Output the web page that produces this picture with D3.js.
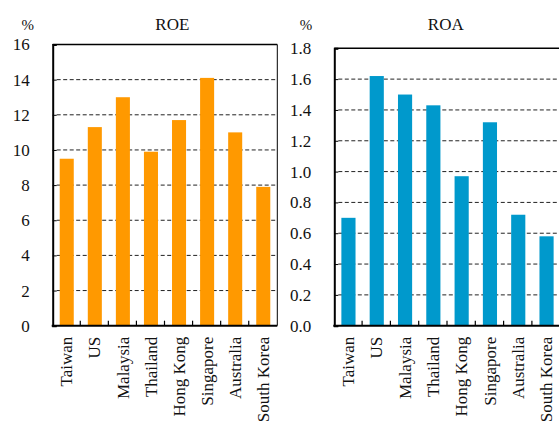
<!DOCTYPE html>
<html>
<head>
<meta charset="utf-8">
<script src="https://cdn.jsdelivr.net/npm/d3@7/dist/d3.min.js"></script>
<style>
  html, body { margin: 0; padding: 0; background: #fff; }
  svg { display: block; }
  text { font-family: "Liberation Serif", "Times New Roman", serif; fill: #111; }
</style>
</head>
<body>
<svg id="chart" width="559" height="421"></svg>
<script>
// Bank profitability by market
const categories = ["Taiwan", "US", "Malaysia", "Thailand", "Hong Kong", "Singapore", "Australia", "South Korea"];
const roeValues = [9.5, 11.3, 13.0, 9.9, 11.7, 14.1, 11.0, 7.9];
const roaValues = [0.70, 1.62, 1.50, 1.43, 0.97, 1.32, 0.72, 0.58];
const roeTicks = [0, 2, 4, 6, 8, 10, 12, 14, 16];
const roaTicks = [0, 0.2, 0.4, 0.6, 0.8, 1.0, 1.2, 1.4, 1.6, 1.8];

const svg = d3.select("#chart");

function panel(opts) {
  const { left, right, top, bottom, values, ticks, fmt, color, title, titleX, unitX } = opts;
  const g = svg.append("g");

  const x = d3.scaleBand().domain(categories).range([left, right]).paddingInner(0.5).paddingOuter(0.25);
  const y = d3.scaleLinear().domain([0, d3.max(ticks)]).range([bottom, top]);

  // dashed gridlines
  g.selectAll("line.grid")
    .data(ticks.filter(t => t > 0 && t < d3.max(ticks)))
    .join("line")
    .attr("x1", left + 4).attr("x2", right)
    .attr("y1", d => y(d)).attr("y2", d => y(d))
    .attr("stroke", "#222").attr("stroke-width", 1)
    .attr("stroke-dasharray", "4,2.5");

  // bars
  g.selectAll("rect.bar")
    .data(values)
    .join("rect")
    .attr("x", (d, i) => x(categories[i]))
    .attr("width", x.bandwidth())
    .attr("y", d => y(d))
    .attr("height", d => bottom - y(d))
    .attr("fill", color);

  // frame: top and right lines
  g.append("line").attr("x1", left).attr("x2", right).attr("y1", top).attr("y2", top)
    .attr("stroke", "#000").attr("stroke-width", 1.6);
  g.append("line").attr("x1", right).attr("x2", right).attr("y1", top).attr("y2", bottom)
    .attr("stroke", "#000").attr("stroke-width", 1);

  // y axis
  const yAxis = d3.axisLeft(y).tickValues(ticks).tickFormat(fmt).tickSize(-4).tickPadding(23);
  const ya = g.append("g").attr("transform", `translate(${left},0)`).call(yAxis);
  ya.select(".domain").attr("stroke", "#000").attr("stroke-width", 2);
  ya.selectAll(".tick line").attr("stroke", "#000").attr("stroke-width", 1);
  ya.selectAll(".tick text").attr("font-size", 17).attr("font-family", "Liberation Serif, Times New Roman, serif").attr("fill", "#111");

  // x axis baseline with ticks between categories
  g.append("line").attr("x1", left - 1).attr("x2", right).attr("y1", bottom).attr("y2", bottom)
    .attr("stroke", "#000").attr("stroke-width", 2);
  g.selectAll("line.xtick")
    .data(categories.slice(1))
    .join("line")
    .attr("x1", d => x(d) - x.step() * x.paddingInner() / 2 - 0.5)
    .attr("x2", d => x(d) - x.step() * x.paddingInner() / 2 - 0.5)
    .attr("y1", bottom).attr("y2", bottom - 5)
    .attr("stroke", "#000").attr("stroke-width", 1.2);

  // category labels
  g.selectAll("text.cat")
    .data(categories)
    .join("text")
    .attr("transform", d => `translate(${x(d) + x.bandwidth() / 2},${bottom + 11}) rotate(-90)`)
    .attr("text-anchor", "end")
    .attr("dy", "0.33em")
    .attr("font-size", 17)
    .text(d => d);

  // title and unit
  g.append("text").attr("x", titleX).attr("y", 29.5).attr("text-anchor", "middle")
    .attr("font-size", 17).text(title);
  g.append("text").attr("x", unitX).attr("y", 29.5).attr("text-anchor", "middle")
    .attr("font-size", 15).text("%");
}

panel({
  left: 52.7, right: 277.3, top: 44.5, bottom: 325.7,
  values: roeValues, ticks: roeTicks, fmt: d3.format("d"),
  color: "#FF9900", title: "ROE", titleX: 172.3, unitX: 27.7
});

panel({
  left: 334.3, right: 560.7, top: 48.3, bottom: 325.7,
  values: roaValues, ticks: roaTicks, fmt: d3.format(".1f"),
  color: "#0099CC", title: "ROA", titleX: 445.8, unitX: 306
});
</script>
</body>
</html>
